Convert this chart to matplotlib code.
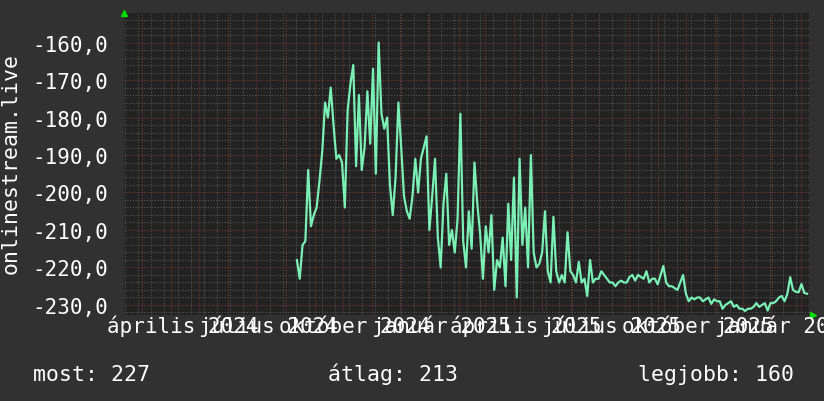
import datetime as dt
import numpy as np
import matplotlib
matplotlib.use("Agg")
import matplotlib.pyplot as plt
import matplotlib.dates as mdates
from matplotlib.transforms import blended_transform_factory

# data: one value every 3 days starting 2024-08-13
start = dt.date(2024, 8, 13)
step_days = 3
values = [
    -218, -223, -214, -213, -194, -209, -206, -204, -197, -189,
    -176, -180, -172, -182, -191, -190, -192, -204, -178, -171,
    -166, -193, -174, -194, -188, -173, -187, -167, -195, -160,
    -179, -183, -180, -198, -206, -196, -176, -188, -201, -205,
    -207, -201, -191, -200, -191, -188, -185, -210, -201, -191,
    -212, -220, -203, -195, -214, -210, -216, -207, -179, -213,
    -220, -205, -215, -192, -203, -211, -223, -209, -216, -206,
    -226, -218, -220, -212, -225, -203, -218, -196, -228, -191,
    -214, -204, -220, -190, -216, -220, -219, -216, -205, -221,
    -224, -206.5, -221, -224, -222, -224, -210.6, -221, -222, -224,
    -218.5, -224, -223, -227.6, -218, -224, -223, -223, -221, -222,
    -223, -224, -224, -225, -224, -223.5, -224, -224, -222.5, -222,
    -223.5, -222, -222.5, -223, -221, -224, -223, -223, -224.5, -222,
    -219.6, -224, -225, -225, -225.5, -226, -224, -222, -227, -229,
    -228, -228.5, -228, -228, -229, -228.5, -228, -229.7, -228.5, -229,
    -229, -231, -230, -229.5, -229, -230.5, -230, -231, -231, -231.6,
    -231, -231, -230.5, -229.5, -230.5, -230, -229.5, -231.5, -229.5, -229.5,
    -229, -228, -227.6, -229, -227, -222.6, -226, -226.5, -226.6, -224.4,
    -226.8, -227,
]
dates = [start + dt.timedelta(days=step_days * i) for i in range(len(values))]

yticks = [-160, -170, -180, -190, -200, -210, -220, -230]
label_dates = [dt.date(2024, 4, 1), dt.date(2024, 7, 1), dt.date(2024, 10, 1),
               dt.date(2025, 1, 1), dt.date(2025, 4, 1), dt.date(2025, 7, 1),
               dt.date(2025, 10, 1), dt.date(2026, 1, 1)]
label_texts = ["április 2024", "július 2024", "október 2024", "január 2025",
               "április 2025", "július 2025", "október 2025", "január 2026"]
most, atlag, legjobb = 227, 213, 160

bg = "#313131"
plotbg = "#222222"
linecol = "#7af0b4"
font = "DejaVu Sans Mono"
fs = 15

fig = plt.figure(figsize=(8.24, 4.02), dpi=100, facecolor=bg)
ax = fig.add_axes([124 / 824, 1 - 316 / 402, (809 - 124) / 824, (316 - 14) / 402])
ax.set_facecolor(plotbg)

ax.set_xlim(dt.date(2024, 2, 11), dt.date(2026, 2, 9))
ax.set_ylim(-232.67, -152.13)

# grid
ax.xaxis.set_major_locator(mdates.MonthLocator())
ax.xaxis.set_minor_locator(mdates.WeekdayLocator(byweekday=mdates.MO, interval=2))
ax.yaxis.set_major_locator(plt.FixedLocator(yticks))
ax.yaxis.set_minor_locator(plt.MultipleLocator(2))
ax.grid(which="minor", color="#555555", linestyle=(0, (1, 1.5)), linewidth=0.8)
ax.grid(which="major", color="#7a3535", linestyle=(0, (1, 1.5)), linewidth=0.8)
ax.set_axisbelow(True)

ax.plot(dates, values, color=linecol, linewidth=1.6)

for s in ax.spines.values():
    s.set_visible(False)

ax.tick_params(which="both", length=0)
ax.tick_params(axis="y", pad=11.5, labelsize=fs, labelcolor="white")
ax.set_yticklabels([f"{v:.1f}".replace(".", ",") for v in yticks], family=font)
ax.set_xticklabels([])

trans = blended_transform_factory(ax.transData, ax.transAxes)
for d, t in zip(label_dates, label_texts):
    ax.annotate(t, xy=(mdates.date2num(d + dt.timedelta(days=13)), 0), xycoords=trans,
                xytext=(0, -12.5), textcoords="offset points", ha="center",
                va="baseline", color="white", fontsize=fs, family=font,
                annotation_clip=False)

# green arrows
ax.plot([0], [1.0], transform=ax.transAxes, marker="^", color="#00dd00",
        markersize=5, clip_on=False, linestyle="none")
ax.plot([1.006], [0.0], transform=ax.transAxes, marker=">", color="#00dd00",
        markersize=5, clip_on=False, linestyle="none")

fig.text(11 / 824, 1 - 164 / 402, "onlinestream.live", rotation=90, ha="center",
         va="center", color="white", fontsize=15.5, family=font)

fig.text(33 / 824, 1 - 381 / 402, f"most: {most}", color="white", fontsize=15.5,
         family=font, va="baseline")
fig.text(328 / 824, 1 - 381 / 402, f"átlag: {atlag}", color="white", fontsize=15.5,
         family=font, va="baseline")
fig.text(638 / 824, 1 - 381 / 402, f"legjobb: {legjobb}", color="white", fontsize=15.5,
         family=font, va="baseline")

fig.savefig("out.png", dpi=100, facecolor=bg)
